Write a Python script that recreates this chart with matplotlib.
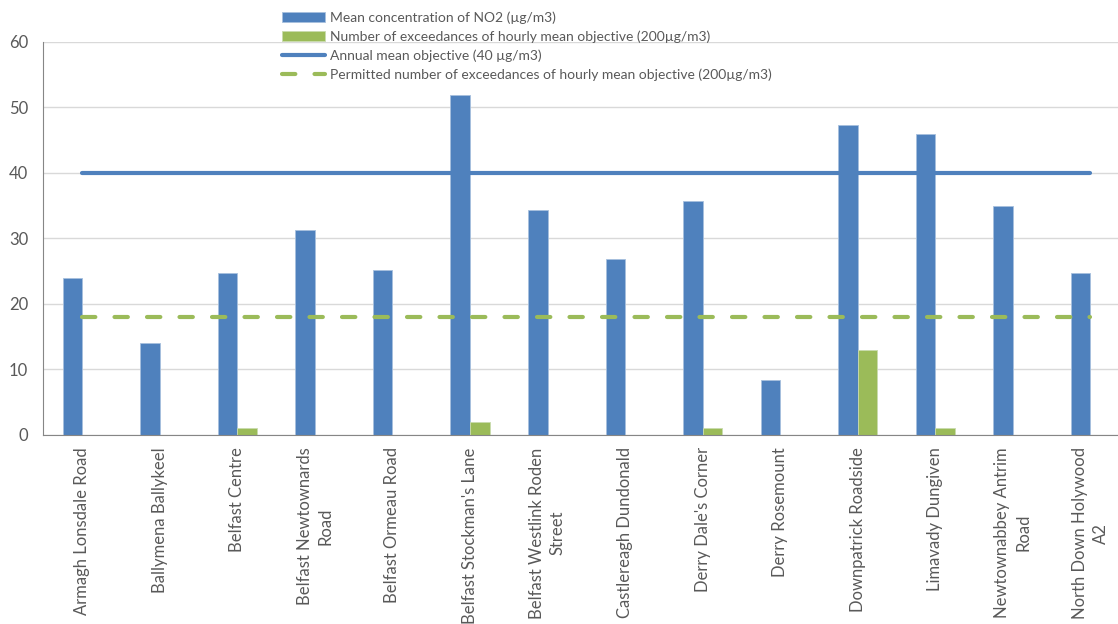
import numpy as np
import matplotlib.pyplot as plt

plt.rcParams['font.family'] = ['Lato', 'DejaVu Sans']

sites = ["Armagh Lonsdale Road", "Ballymena Ballykeel", "Belfast Centre",
         "Belfast Newtownards\nRoad", "Belfast Ormeau Road",
         "Belfast Stockman's Lane", "Belfast Westlink Roden\nStreet",
         "Castlereagh Dundonald", "Derry Dale's Corner", "Derry Rosemount",
         "Downpatrick Roadside", "Limavady Dungiven",
         "Newtownabbey Antrim\nRoad", "North Down Holywood\nA2"]
no2_mean = [24.0, 14.0, 24.7, 31.2, 25.2, 51.8, 34.3, 26.8, 35.7, 8.4,
            47.3, 45.9, 34.9, 24.7]
exceedances = [0, 0, 1, 0, 0, 2, 0, 0, 1, 0, 13, 1, 0, 0]
annual_objective = [40] * len(sites)
permitted_exceedances = [18] * len(sites)

blue = '#4f81bd'
green = '#9bbb59'
grey = '#595959'

fig = plt.figure(figsize=(11.18, 6.24), dpi=100)
ax = fig.add_axes([0.0389, 0.3032, 0.971, 0.6301])

x = np.arange(len(sites))
w = 0.252
b1 = ax.bar(x - w / 2, no2_mean, w, color=blue, edgecolor='#a7c0de', linewidth=0.6,
            label='Mean concentration of NO2 (µg/m3)', zorder=2)
b2 = ax.bar(x + w / 2, exceedances, w, color=green, edgecolor='#c9dbae', linewidth=0.6,
            label='Number of exceedances of hourly mean objective (200µg/m3)', zorder=2)
l1, = ax.plot(x, annual_objective, color=blue, lw=3, solid_capstyle='round',
              label='Annual mean objective (40 µg/m3)', zorder=3)
l2, = ax.plot(x, permitted_exceedances, color=green, lw=3, dashes=(3.2, 4.6),
              dash_capstyle='round',
              label='Permitted number of exceedances of hourly mean objective (200µg/m3)',
              zorder=3)

ax.set_xlim(-0.5, len(sites) - 0.5)
ax.set_ylim(0, 60)
ax.set_yticks(range(0, 61, 10))
ax.set_xticks(x)
ax.set_xticklabels(sites, rotation=90, ha='center', va='top',
                   multialignment='center', linespacing=1.35)
ax.tick_params(axis='both', length=0, labelsize=12, colors=grey)
ax.tick_params(axis='y', pad=11)
ax.tick_params(axis='x', pad=9)

ax.grid(axis='y', color='#d9d9d9', lw=1, zorder=0)
ax.set_axisbelow(True)
for s in ('top', 'right'):
    ax.spines[s].set_visible(False)
ax.spines['left'].set_color('#868686')
ax.spines['bottom'].set_color('#868686')

handles = [b1, b2, l1, l2]
fig.legend(handles, [h.get_label() for h in handles],
           loc='upper left', bbox_to_anchor=(0.2456, 0.9935), frameon=False,
           fontsize=10, borderpad=0, handlelength=3.1, handletextpad=0.36,
           labelspacing=0.47, labelcolor=grey)

fig.savefig('out.png', dpi=100)
